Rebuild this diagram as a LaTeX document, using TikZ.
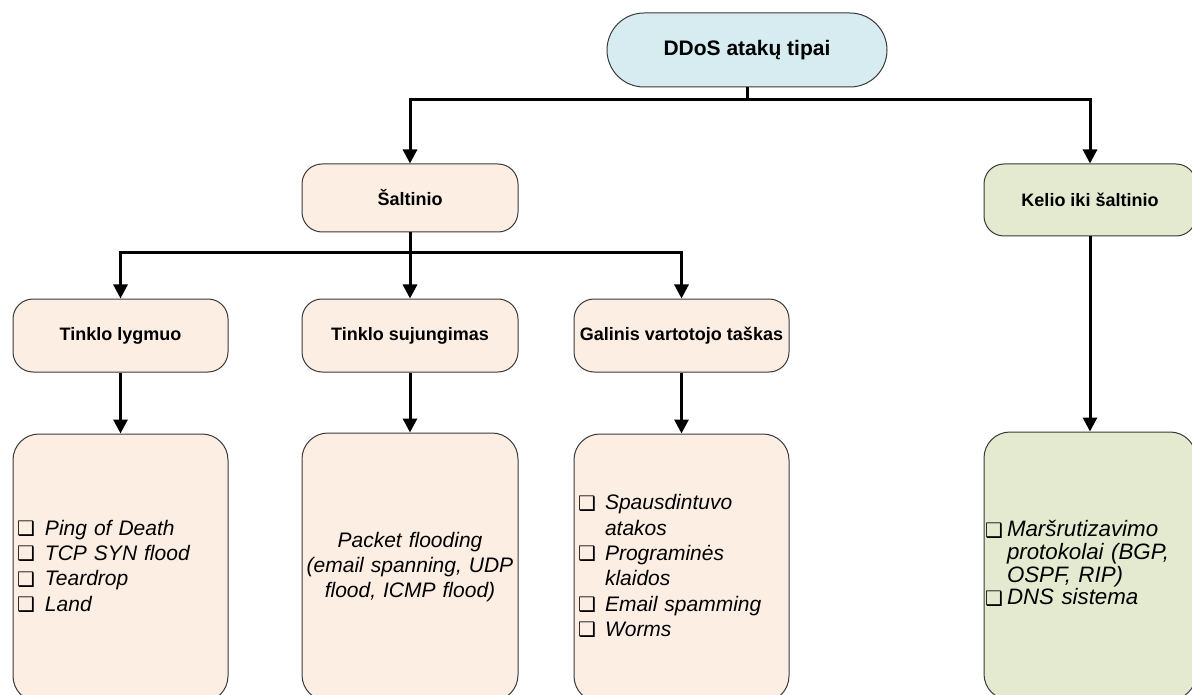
\documentclass[tikz,border=0pt]{standalone}
\usepackage{fontspec}
\setmainfont{Liberation Sans}
\newfontfamily\symfont{DejaVu Sans}
\usepackage{array}
\usetikzlibrary{arrows.meta}

\definecolor{capblue}{HTML}{D6ECF1}
\definecolor{peach}{HTML}{FDEEE3}
\definecolor{sage}{HTML}{E4EAD0}
\definecolor{rim}{HTML}{3A3A3A}

% shadowed check-box bullet
\newcommand{\bx}{{\symfont\fontsize{20}{20}\selectfont\raisebox{-0.5pt}{❑}}}

\tikzset{
  box/.style={draw=rim, line width=1pt, inner sep=0pt, align=center},
  headbox/.style={box, fill=capblue, minimum width=280pt, minimum height=74pt,
    rounded corners=37pt, font=\bfseries\fontsize{21}{25}\selectfont},
  midbox/.style={box, fill=peach, minimum width=216pt, minimum height=70pt,
    rounded corners=20pt, font=\bfseries\fontsize{18}{22}\selectfont},
  greenbox/.style={midbox, fill=sage},
  listbox/.style={draw=rim, line width=1pt, fill=peach, minimum width=216pt,
    minimum height=268pt, rounded corners=26pt, inner xsep=4pt, inner ysep=0pt,
    text width=207pt, align=left, font=\itshape\fontsize{21}{25.3}\selectfont},
  conn/.style={line width=3pt, -{Triangle[length=14pt,width=14pt]}},
  trunk/.style={line width=3pt}
}

\begin{document}
\begin{tikzpicture}[x=1pt, y=-1pt]
  \clip (0,0) rectangle (1192,695);
  \fill[white] (0,0) rectangle (1192,695);

  % top level
  \node[headbox] (top) at (747,50) {DDoS atakų tipai};

  % second level
  \node[midbox, minimum height=68pt] (salt) at (410,198) {Šaltinio};
  \node[greenbox, minimum width=212pt, minimum height=72pt] (kelio) at (1090,200) {Kelio iki šaltinio};

  % third level
  \node[midbox, minimum width=215pt, minimum height=73pt] (lyg) at (120.5,335.5) {Tinklo lygmuo};
  \node[midbox, minimum height=73pt] (suj) at (410,335.5) {Tinklo sujungimas};
  \node[midbox, minimum width=215pt, minimum height=73pt] (gal) at (681.5,335.5) {Galinis vartotojo taškas};

  % attack lists
  \node[listbox, minimum width=215pt] (l1) at (120.5,568) {%
    \begin{tabular}{@{}p{28pt}@{}l@{}}
      \bx & Ping of Death\\
      \bx & TCP SYN flood\\
      \bx & Teardrop\\
      \bx & Land
    \end{tabular}};
  \node[listbox, align=center, inner xsep=0pt, text width=216pt] (l2) at (410,567) {%
    Packet flooding\\[-0.6pt]
    (email spanning, UDP\\[-0.6pt]
    flood, ICMP flood)};
  \node[listbox, minimum width=215pt] (l3) at (681.5,568) {%
    \begin{tabular}{@{}p{27pt}@{}l@{}}
      \bx & Spausdintuvo\\
          & atakos\\
      \bx & Programinės\\
          & klaidos\\
      \bx & Email spamming\\
      \bx & Worms
    \end{tabular}};
  \node[listbox, fill=sage, minimum width=212pt, inner xsep=1pt, text width=210pt,
        font=\itshape\fontsize{22.3}{22}\selectfont] (l4) at (1090,566) {%
    \begin{tabular}{@{}p{22pt}@{}l@{}}
      \bx & Maršrutizavimo\\
          & protokolai (BGP,\\
          & OSPF, RIP)\\
      \bx & DNS sistema
    \end{tabular}};

  % connectors
  \coordinate (j1) at (747,100);
  \draw[trunk] (top.south) -- (j1);
  \draw[conn] (j1) -| (salt.north);
  \draw[conn] (j1) -| (kelio.north);

  \coordinate (j2) at (410,253);
  \draw[trunk] (salt.south) -- (j2);
  \draw[conn] (j2) -| (lyg.north);
  \draw[conn] (j2) -- (suj.north);
  \draw[conn] (j2) -| (gal.north);

  \draw[conn] (lyg.south) -- (l1.north);
  \draw[conn] (suj.south) -- (l2.north);
  \draw[conn] (gal.south) -- (l3.north);
  \draw[conn] (kelio.south) -- (l4.north);
\end{tikzpicture}
\end{document}
